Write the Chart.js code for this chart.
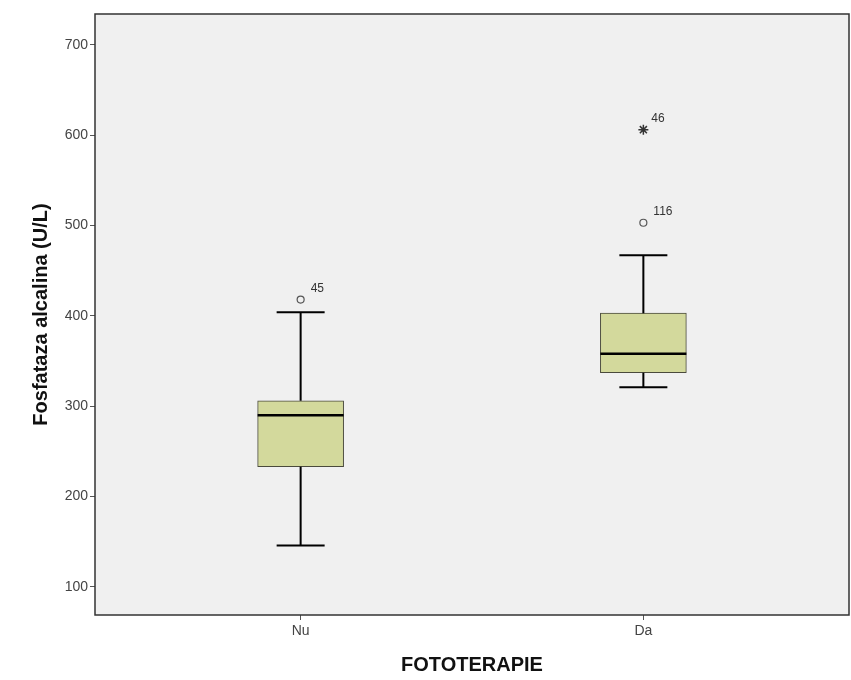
<!DOCTYPE html>
<html>
<head>
<meta charset="utf-8">
<script src="https://cdn.jsdelivr.net/npm/chart.js@4.4.1/dist/chart.umd.min.js"></script>
<style>
    html, body { margin: 0; padding: 0; background: #fff; overflow: hidden; }
    canvas { display: block; }
</style>
</head>
<body>
<canvas id="boxChart" width="851" height="680"></canvas>
<script>
// Box plot data
const groups = ['Nu', 'Da'];
const groupPos = [1, 2];
const whiskerLow = [146, 321];
const q1 = [233, 337];
const median = [290, 358];
const q3 = [306, 403];
const whiskerHigh = [404, 467];

// outliers (circles) and extremes (stars)
const outlierGroup = [0, 1];
const outlierValue = [418, 503];
const outlierLabel = ['45', '116'];
const extremeGroup = [1];
const extremeValue = [606];
const extremeLabel = ['46'];

const yTicks = [100, 200, 300, 400, 500, 600, 700];

// Plot background + frame, whiskers, medians, case labels
const boxPlotPlugin = {
    id: 'boxPlotPlugin',
    beforeDraw(chart) {
        const { ctx, chartArea: a } = chart;
        ctx.save();
        ctx.fillStyle = '#f0f0f0';
        ctx.fillRect(a.left, a.top, a.right - a.left, a.bottom - a.top);
        ctx.restore();
    },
    afterDatasetsDraw(chart) {
        const { ctx, chartArea: a, scales: { x, y } } = chart;
        ctx.save();
        ctx.strokeStyle = '#000';
        groups.forEach((g, i) => {
            const cx = x.getPixelForValue(groupPos[i]);
            const capHalf = 24;
            const boxHalf = 43;
            ctx.lineWidth = 2;
            ctx.beginPath();
            ctx.moveTo(cx, y.getPixelForValue(whiskerLow[i]));
            ctx.lineTo(cx, y.getPixelForValue(q1[i]));
            ctx.moveTo(cx, y.getPixelForValue(q3[i]));
            ctx.lineTo(cx, y.getPixelForValue(whiskerHigh[i]));
            ctx.moveTo(cx - capHalf, y.getPixelForValue(whiskerLow[i]));
            ctx.lineTo(cx + capHalf, y.getPixelForValue(whiskerLow[i]));
            ctx.moveTo(cx - capHalf, y.getPixelForValue(whiskerHigh[i]));
            ctx.lineTo(cx + capHalf, y.getPixelForValue(whiskerHigh[i]));
            ctx.stroke();
            ctx.lineWidth = 2.5;
            ctx.beginPath();
            ctx.moveTo(cx - boxHalf, y.getPixelForValue(median[i]));
            ctx.lineTo(cx + boxHalf, y.getPixelForValue(median[i]));
            ctx.stroke();
        });

        ctx.fillStyle = '#333';
        ctx.font = '12px "Liberation Sans", Arial, sans-serif';
        ctx.textBaseline = 'bottom';
        ctx.textAlign = 'left';
        outlierValue.forEach((v, i) => {
            const px = x.getPixelForValue(groupPos[outlierGroup[i]]);
            const py = y.getPixelForValue(v);
            ctx.fillText(outlierLabel[i], px + 10, py - 5);
        });
        extremeValue.forEach((v, i) => {
            const px = x.getPixelForValue(groupPos[extremeGroup[i]]);
            const py = y.getPixelForValue(v);
            ctx.fillText(extremeLabel[i], px + 8, py - 5);
        });

        ctx.strokeStyle = '#333';
        ctx.lineWidth = 1.5;
        ctx.strokeRect(a.left, a.top, a.right - a.left, a.bottom - a.top);
        ctx.restore();
    }
};

new Chart(document.getElementById('boxChart'), {
    type: 'scatter',
    data: {
        datasets: [
            {
                type: 'bar',
                data: groupPos.map((p, i) => ({ x: p, y: [q1[i], q3[i]] })),
                backgroundColor: '#d3d99c',
                borderColor: '#4a4a3c',
                borderWidth: 1,
                borderSkipped: false,
                barThickness: 86
            },
            {
                data: outlierValue.map((v, i) => ({ x: groupPos[outlierGroup[i]], y: v })),
                pointStyle: 'circle',
                pointRadius: 3.5,
                backgroundColor: 'rgba(0,0,0,0)',
                borderColor: '#555',
                borderWidth: 1.2
            },
            {
                data: extremeValue.map((v, i) => ({ x: groupPos[extremeGroup[i]], y: v })),
                pointStyle: 'star',
                pointRadius: 5,
                borderColor: '#333',
                borderWidth: 1.5
            }
        ]
    },
    options: {
        responsive: false,
        animation: false,
        layout: { autoPadding: false, padding: { top: 14, right: 2, left: 29, bottom: 3 } },
        plugins: {
            legend: { display: false },
            tooltip: { enabled: false }
        },
        scales: {
            x: {
                type: 'linear',
                min: 0.4,
                max: 2.6,
                offset: false,
                afterBuildTicks: s => { s.ticks = groupPos.map(v => ({ value: v })); },
                afterFit: s => {
                    s.height = 62;
                    s.paddingLeft = 0;
                    s.paddingRight = 0;
                },
                ticks: {
                    callback: v => groups[groupPos.indexOf(v)] || '',
                    color: '#444',
                    padding: 3,
                    font: { family: '"Liberation Sans", Arial, sans-serif', size: 14 }
                },
                grid: { drawOnChartArea: false, drawTicks: true, offset: false, tickLength: 5, color: '#555' },
                border: { display: false },
                title: {
                    display: true,
                    text: 'FOTOTERAPIE',
                    color: '#111',
                    padding: { top: 8, bottom: 0 },
                    font: { family: '"Liberation Sans", Arial, sans-serif', size: 20, weight: 'bold' }
                }
            },
            y: {
                min: 69,
                max: 734,
                afterBuildTicks: s => { s.ticks = yTicks.map(v => ({ value: v })); },
                afterFit: s => {
                    s.width = 66;
                    s.paddingTop = 0;
                    s.paddingBottom = 0;
                },
                ticks: {
                    color: '#444',
                    padding: 2,
                    font: { family: '"Liberation Sans", Arial, sans-serif', size: 14 }
                },
                grid: { drawOnChartArea: false, drawTicks: true, tickLength: 5, color: '#555' },
                border: { display: false },
                title: {
                    display: true,
                    text: 'Fosfataza alcalina (U/L)',
                    color: '#111',
                    padding: { top: 0, bottom: 4 },
                    font: { family: '"Liberation Sans", Arial, sans-serif', size: 20, weight: 'bold' }
                }
            }
        }
    },
    plugins: [boxPlotPlugin]
});
</script>
</body>
</html>
